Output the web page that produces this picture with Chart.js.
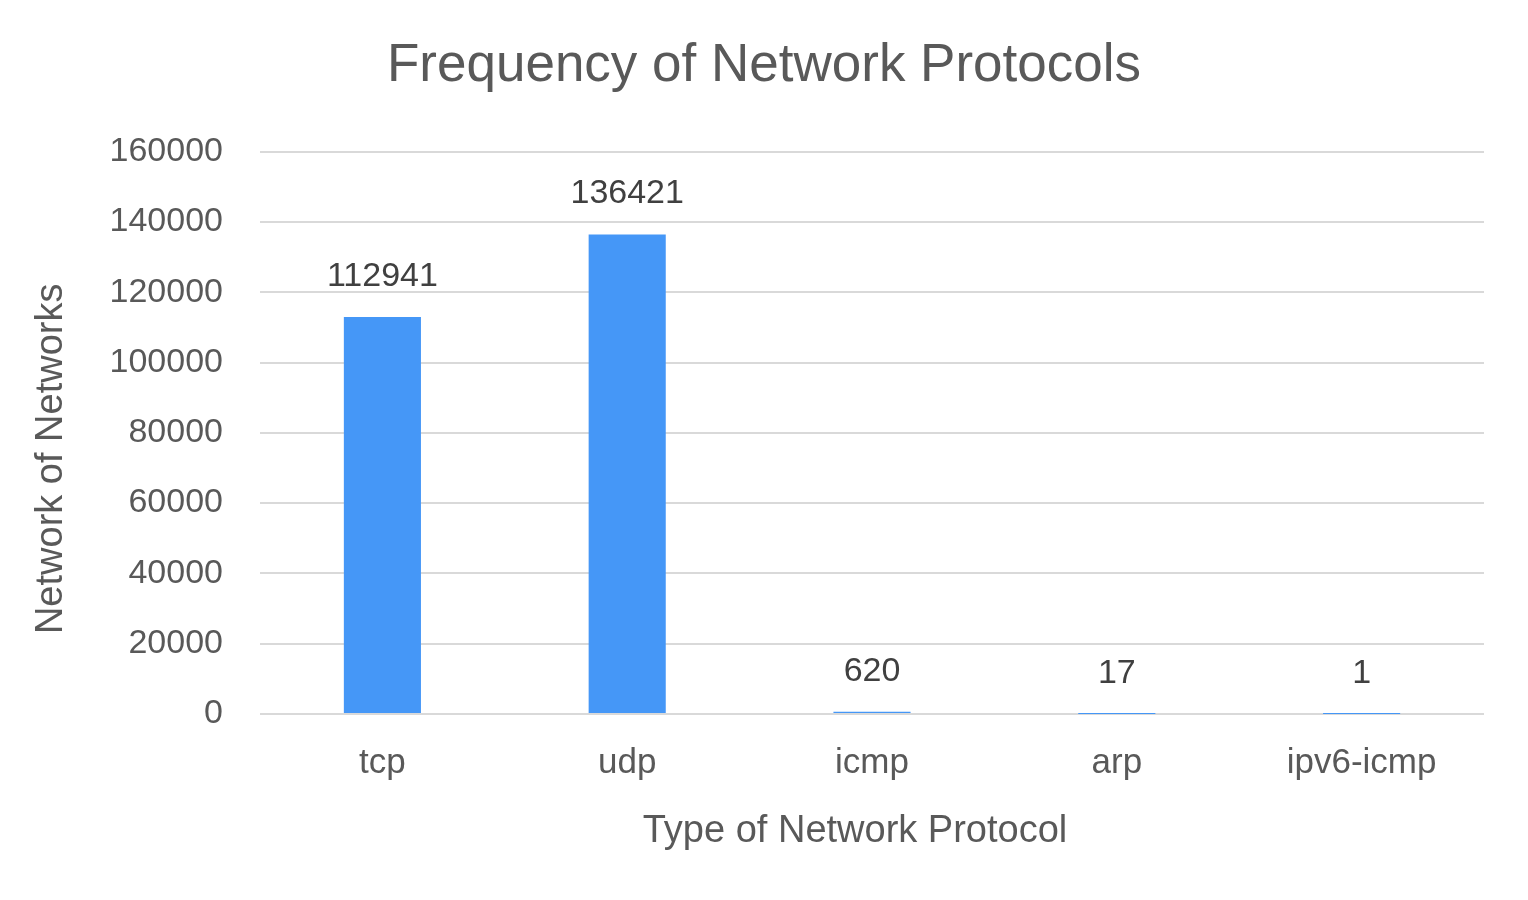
<!DOCTYPE html>
<html>
<head>
<meta charset="utf-8">
<script src="https://cdn.jsdelivr.net/npm/chart.js@4.4.1/dist/chart.umd.min.js"></script>
<style>
  html, body { margin: 0; padding: 0; background: #ffffff; }
  #wrap { width: 1528px; height: 900px; }
</style>
</head>
<body>
<div id="wrap"><canvas id="c" width="1528" height="900"></canvas></div>
<script>
const categories = ["tcp", "udp", "icmp", "arp", "ipv6-icmp"];
const counts = [112941, 136421, 620, 17, 1];
const yTickValues = [0, 20000, 40000, 60000, 80000, 100000, 120000, 140000, 160000];
const chartTitle = "Frequency of Network Protocols";
const xTitle = "Type of Network Protocol";
const yTitle = "Network of Networks";

const FONT = "'Liberation Sans', Arial, sans-serif";

const valueLabels = {
  id: 'valueLabels',
  afterDatasetsDraw(chart) {
    const ctx = chart.ctx;
    const meta = chart.getDatasetMeta(0);
    ctx.save();
    ctx.font = "34px " + FONT;
    ctx.fillStyle = "#404040";
    ctx.textAlign = "center";
    ctx.textBaseline = "alphabetic";
    meta.data.forEach((bar, i) => {
      ctx.fillText(String(counts[i]), bar.x, bar.y - 31);
    });
    ctx.restore();
  }
};

// Axis titles placed like the spreadsheet original (slightly off the plot centre)
const axisTitles = {
  id: 'axisTitles',
  afterDraw(chart) {
    const ctx = chart.ctx;
    const a = chart.chartArea;
    ctx.save();
    ctx.font = "38px " + FONT;
    ctx.fillStyle = "#595959";
    ctx.textAlign = "center";
    ctx.textBaseline = "alphabetic";
    // x title
    ctx.fillText(xTitle, (a.left + a.right) / 2 - 17, a.bottom + 128);
    // y title (rotated)
    ctx.translate(62, (a.top + a.bottom) / 2 + 26);
    ctx.rotate(-Math.PI / 2);
    ctx.fillText(yTitle, 0, 0);
    ctx.restore();
  }
};

new Chart(document.getElementById('c'), {
  type: 'bar',
  data: {
    labels: categories,
    datasets: [{
      data: counts,
      backgroundColor: '#4597F7',
      borderWidth: 0,
      barPercentage: 0.315,
      categoryPercentage: 1.0
    }]
  },
  options: {
    responsive: false,
    animation: false,
    layout: { padding: { left: 44, right: 44, top: 0, bottom: 0 } },
    plugins: {
      legend: { display: false },
      tooltip: { enabled: false },
      title: {
        display: true,
        text: chartTitle,
        color: '#595959',
        font: { family: FONT, size: 53, weight: 'normal', lineHeight: 1.2 },
        padding: { top: 35, bottom: 53 }
      }
    },
    scales: {
      x: {
        grid: { display: false, drawTicks: false },
        border: { display: false },
        ticks: {
          color: '#595959',
          font: { family: FONT, size: 35 },
          padding: 28,
          maxRotation: 0
        },
        afterFit(scale) { scale.height = 186; }
      },
      y: {
        min: 0,
        max: 160000,
        afterBuildTicks(scale) { scale.ticks = yTickValues.map(v => ({ value: v })); },
        grid: { color: '#D9D9D9', lineWidth: 2, drawTicks: false },
        border: { display: false },
        ticks: {
          color: '#595959',
          font: { family: FONT, size: 34 },
          padding: 37,
          callback: (v) => String(v)
        },
        afterFit(scale) { scale.width = 216; }
      }
    }
  },
  plugins: [valueLabels, axisTitles]
});
</script>
</body>
</html>
